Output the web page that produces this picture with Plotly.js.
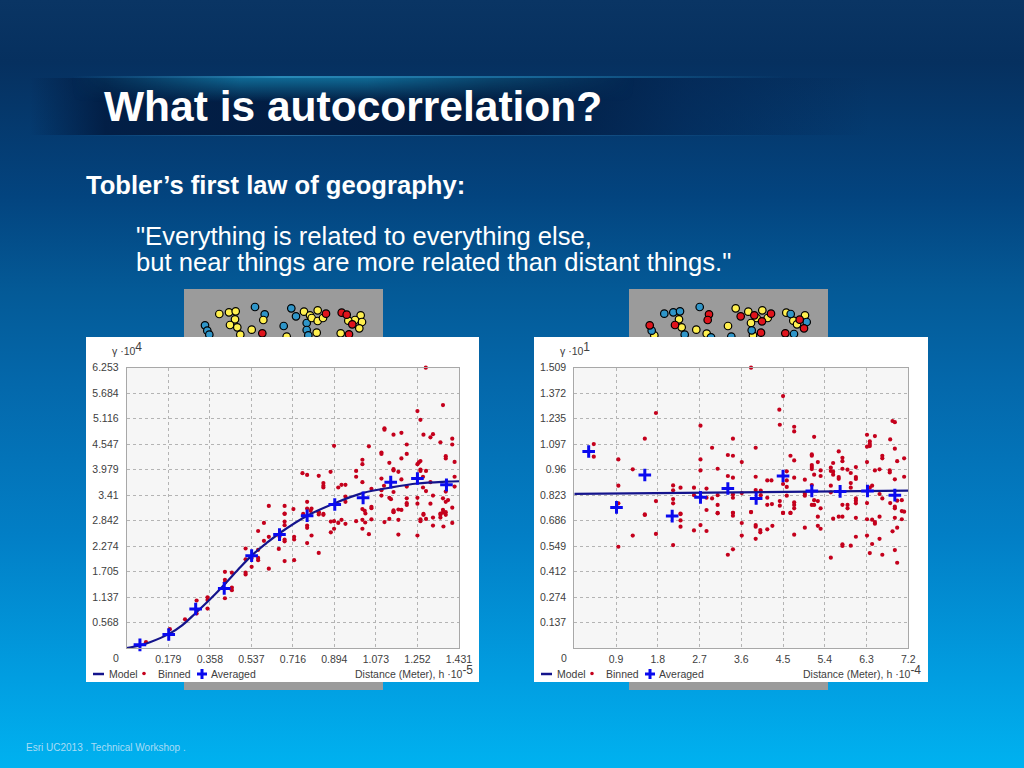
<!DOCTYPE html>
<html><head><meta charset="utf-8">
<script src="https://cdn.plot.ly/plotly-3.0.1.min.js"></script>
<style>
html,body{margin:0;padding:0;width:1024px;height:768px;overflow:hidden;background:linear-gradient(180deg,#0a3564 0%,#06305f 8%,#03447f 25.5%,#045a97 38%,#0468ab 50%,#027fc6 70%,#019fe2 89%,#00b2f0 100%);}
#band{position:absolute;left:30px;top:78px;width:840px;height:57px;background:linear-gradient(90deg,rgba(2,28,66,0) 0%,rgba(2,28,66,.9) 9%,rgba(2,26,62,.95) 55%,rgba(3,36,80,.55) 78%,rgba(4,40,88,0) 100%);}
#glow{position:absolute;left:30px;top:78px;width:840px;height:24px;background:linear-gradient(180deg,rgba(20,130,175,.75),rgba(20,130,175,0));-webkit-mask-image:linear-gradient(90deg,transparent 5%,#000 25%,#000 40%,transparent 72%);mask-image:linear-gradient(90deg,transparent 5%,#000 25%,#000 40%,transparent 72%);}
#bandline{position:absolute;left:30px;top:76px;width:840px;height:2px;background:linear-gradient(90deg,rgba(40,150,200,0) 5%,rgba(50,160,205,.8) 30%,rgba(40,150,200,.5) 60%,rgba(40,150,200,0) 90%);}
#bandline2{position:absolute;left:30px;top:135px;width:840px;height:1px;background:linear-gradient(90deg,rgba(50,120,170,0) 5%,rgba(50,120,170,.7) 30%,rgba(50,120,170,.4) 60%,rgba(50,120,170,0) 90%);}
#chart{position:absolute;left:0;top:0;width:1024px;height:768px;}
</style></head><body>
<div id="band"></div><div id="glow"></div><div id="bandline"></div><div id="bandline2"></div><div id="chart"></div>
<script>
// Left semivariogram (distance ·10^-5, gamma ·10^4)
var leftBinnedX=[1.288,1.362,1.252,1.265,1.110,1.110,1.149,1.183,1.278,1.319,1.308,1.402,1.351,1.402,0.893,1.043,1.206,1.097,1.097,1.206,1.374,1.374,1.183,1.015,1.015,1.131,1.412,1.252,1.258,1.265,1.149,1.149,1.170,1.265,1.265,1.289,0.988,0.988,0.878,0.757,0.777,0.827,1.015,1.097,1.183,1.276,1.412,0.847,0.847,0.847,0.911,0.925,0.942,1.054,1.097,1.108,1.206,1.308,1.276,1.289,1.374,1.412,1.149,1.097,0.942,1.131,1.138,1.206,1.252,1.319,1.362,1.384,1.374,0.942,0.777,1.206,1.206,1.252,1.308,0.612,0.680,0.718,0.777,0.796,0.792,0.827,0.847,1.015,1.025,1.028,1.054,1.054,1.149,1.149,1.170,1.183,1.402,1.362,1.374,1.351,1.278,0.680,0.760,0.680,0.827,0.827,0.847,0.591,0.680,0.680,0.566,0.612,0.591,0.658,0.721,0.721,0.680,0.680,0.777,0.777,0.796,0.777,0.879,0.879,0.893,0.893,0.911,0.925,0.942,0.988,1.015,1.015,1.027,1.043,1.054,1.110,1.131,1.170,1.170,1.149,1.265,1.265,1.252,1.278,1.289,1.319,1.319,1.351,1.351,1.364,1.362,1.374,1.402,0.512,0.566,0.512,0.538,0.566,0.566,0.538,0.612,0.655,0.680,0.721,0.827,0.512,0.512,0.423,0.453,0.423,0.423,0.453,0.453,0.423,0.348,0.348,0.301,0.348,0.301,0.251,0.186,0.083];
var leftBinnedY=[6.253,5.42,5.286,5.09,4.90,4.87,4.76,4.80,4.76,4.77,4.70,4.67,4.59,4.54,4.51,4.50,4.54,4.36,4.33,4.33,4.28,4.23,4.23,4.20,4.10,4.13,4.15,4.10,4.14,4.17,3.99,3.96,3.93,3.98,3.95,3.95,3.95,3.82,3.93,3.90,3.86,3.84,3.70,3.78,3.76,3.82,3.82,3.68,3.62,3.58,3.58,3.64,3.64,3.55,3.52,3.62,3.60,3.70,3.58,3.50,3.49,3.60,3.48,3.40,3.38,3.35,3.32,3.34,3.35,3.40,3.34,3.30,3.26,3.26,3.26,3.23,3.19,3.22,3.22,3.17,3.17,3.10,3.11,3.11,3.06,3.03,2.99,3.10,3.06,3.00,3.15,3.12,3.07,3.03,3.09,3.08,3.13,3.08,3.03,3.00,2.99,3.00,2.99,2.99,3.02,2.98,2.97,2.79,2.82,2.74,2.61,2.48,2.39,2.49,2.48,2.42,2.42,2.38,2.73,2.68,2.51,2.34,2.82,2.58,2.83,2.66,2.79,2.86,2.77,2.83,2.86,2.66,2.80,2.54,2.87,2.81,2.88,2.86,2.53,3.04,2.87,2.83,2.51,2.97,2.88,2.91,2.73,2.97,2.91,2.71,3.02,2.97,2.79,2.22,2.19,1.98,2.01,2.01,1.96,1.81,1.77,2.21,1.94,1.96,2.12,1.68,1.64,1.70,1.68,1.52,1.46,1.35,1.29,1.11,1.13,1.07,1.06,0.88,0.77,0.64,0.42,0.13];
var leftAvgX=[0.057,0.181,0.297,0.420,0.538,0.658,0.777,0.896,1.018,1.137,1.252,1.377];
var leftAvgY=[0.07,0.30,0.87,1.33,2.06,2.53,2.95,3.20,3.35,3.70,3.78,3.64];
var leftModelX=[0,0.057,0.10,0.181,0.237,0.297,0.358,0.42,0.48,0.538,0.60,0.658,0.777,0.896,1.018,1.137,1.252,1.377,1.431];
var leftModelY=[0,0.06,0.13,0.31,0.50,0.78,1.08,1.41,1.75,2.06,2.33,2.56,2.95,3.23,3.46,3.58,3.67,3.71,3.72];
var leftXTicks=[0.179,0.358,0.537,0.716,0.894,1.073,1.252,1.431];
var leftXLabels=['0.179','0.358','0.537','0.716','0.894','1.073','1.252','1.431'];
var leftYTicks=[0.568,1.137,1.705,2.274,2.842,3.41,3.979,4.547,5.116,5.684,6.253];
var leftYLabels=['0.568','1.137','1.705','2.274','2.842','3.41','3.979','4.547','5.116','5.684','6.253'];

// Right semivariogram (distance ·10^-4, gamma ·10^1)
var rightBinnedX=[3.81,4.50,4.42,1.76,4.43,2.72,4.74,4.74,6.86,6.91,6.31,6.48,5.17,1.52,3.42,6.81,0.42,6.37,6.37,6.31,6.37,2.97,3.91,6.91,5.70,3.31,3.42,4.66,5.12,5.12,6.64,6.64,0.42,5.78,5.78,0.95,2.72,4.74,6.31,6.96,7.11,3.61,5.25,5.58,5.12,5.12,5.12,5.53,6.07,3.09,5.78,5.89,5.31,5.53,5.58,6.48,6.58,6.80,6.80,1.26,2.72,4.58,5.96,3.31,3.42,3.91,5.17,5.31,5.58,5.70,5.70,6.07,6.07,7.11,6.91,0.95,4.16,4.25,4.74,4.97,4.58,4.50,4.58,2.13,2.13,2.29,2.58,2.85,5.12,5.53,5.96,5.96,6.42,6.37,3.91,4.02,4.02,3.61,3.42,3.42,2.58,2.85,2.97,3.09,4.16,4.58,4.97,4.97,5.53,6.58,6.64,6.07,6.07,6.07,6.96,7.06,1.76,2.13,2.13,0.95,5.17,5.25,4.43,4.43,4.74,4.74,4.74,4.16,4.26,3.09,5.12,5.17,5.78,5.89,5.89,6.31,6.81,6.91,6.91,5.31,2.85,7.06,7.11,3.09,3.42,3.81,4.50,4.66,1.52,2.29,2.29,3.42,3.42,3.09,3.81,1.52,4.50,4.66,5.25,5.58,5.70,5.78,6.07,6.31,6.42,6.48,6.48,6.58,6.91,7.06,2.29,2.29,2.72,3.61,3.91,3.91,4.01,4.01,4.16,4.27,4.97,5.25,5.31,2.58,2.85,1.26,1.76,3.61,4.74,3.91,6.07,6.31,6.86,6.96,6.58,0.95,2.13,5.78,5.78,5.96,6.42,3.42,3.31,6.37,6.64,6.91,5.53,6.96];
var rightBinnedY=[1.509,1.356,1.283,1.265,1.202,1.197,1.191,1.166,1.222,1.216,1.148,1.141,1.137,1.127,1.127,1.123,1.098,1.112,1.098,1.084,1.087,1.078,1.078,1.073,1.058,1.039,1.035,1.035,1.042,1.035,1.035,1.021,1.030,1.024,1.006,1.015,1.015,1.010,1.001,1.006,1.021,1.001,1.001,0.996,0.985,0.974,0.963,0.971,0.974,0.965,0.965,0.960,0.956,0.953,0.949,0.956,0.962,0.956,0.945,0.962,0.956,0.951,0.942,0.926,0.917,0.922,0.933,0.926,0.933,0.920,0.911,0.920,0.910,0.922,0.908,0.874,0.902,0.902,0.917,0.906,0.902,0.883,0.867,0.875,0.849,0.863,0.863,0.858,0.877,0.874,0.888,0.863,0.874,0.863,0.850,0.847,0.823,0.834,0.827,0.809,0.823,0.809,0.805,0.823,0.809,0.820,0.831,0.820,0.838,0.829,0.805,0.805,0.793,0.779,0.793,0.796,0.791,0.802,0.779,0.779,0.796,0.791,0.791,0.766,0.784,0.770,0.752,0.771,0.775,0.770,0.770,0.770,0.771,0.770,0.752,0.780,0.780,0.761,0.752,0.752,0.743,0.737,0.734,0.725,0.727,0.732,0.727,0.727,0.719,0.723,0.721,0.728,0.712,0.727,0.732,0.716,0.727,0.727,0.707,0.696,0.707,0.707,0.701,0.693,0.691,0.678,0.669,0.707,0.701,0.693,0.687,0.653,0.662,0.673,0.662,0.653,0.635,0.623,0.639,0.658,0.648,0.658,0.642,0.633,0.630,0.605,0.614,0.605,0.610,0.588,0.599,0.605,0.628,0.648,0.588,0.545,0.554,0.558,0.549,0.551,0.560,0.531,0.502,0.511,0.502,0.527,0.486,0.459];
var rightAvgX=[0.31,0.91,1.52,2.11,2.72,3.31,3.92,4.50,5.12,5.73,6.32,6.91];
var rightAvgY=[1.058,0.757,0.931,0.710,0.811,0.859,0.805,0.926,0.845,0.843,0.845,0.823];
var rightModelX=[0,7.2];
var rightModelY=[0.83,0.847];
var rightXTicks=[0.9,1.8,2.7,3.6,4.5,5.4,6.3,7.2];
var rightXLabels=['0.9','1.8','2.7','3.6','4.5','5.4','6.3','7.2'];
var rightYTicks=[0.137,0.274,0.412,0.549,0.686,0.823,0.96,1.097,1.235,1.372,1.509];
var rightYLabels=['0.137','0.274','0.412','0.549','0.686','0.823','0.96','1.097','1.235','1.372','1.509'];

// Sample-point maps peeking out behind the charts
var mapLYellowX=[35.3,45,51.7,51,46,53.3,67.7,56.3,79.3,102.7,120,126,133.7,127.7,133.7,139,132.7,176.7,171,164.3,178,175.3,156.7];
var mapLYellowY=[25,23.3,22.3,30.3,36,38.3,40.7,45.7,31,47.7,22.7,26.3,21.3,29,32,29,43.7,26.3,31,31.7,33,39.3,44.3];
var mapLBlueX=[71,80.7,21,23.3,25.3,99.7,107.3,112,122.7,122.7,124.3];
var mapLBlueY=[18,25.3,36.3,41.7,45.7,37,19.3,27.3,34,41,46.3];
var mapLRedX=[78.3,142,157.7,162.7,168.3,165];
var mapLRedY=[44.3,24.7,23.7,25.7,35.3,45.3];
var mapRYellowX=[50,52.7,67.3,77.7,25.3,99,106.7,119.3,133.3,127.7,138.7,122,157.3,176,164.3,168,124];
var mapRYellowY=[30.3,38.3,40.7,44.7,46.3,37,19.3,22.7,21.3,29,29,34,23.7,26.3,31.7,35.3,46.3];
var mapRBlueX=[35.3,44.3,51,70.7,22.7,55.7,161.7,177.7,122.7,165,102.3,82];
var mapRBlueY=[24.7,23.3,22.3,18,41.7,45.7,25,33,41.3,45,47.7,48.3];
var mapRRedX=[80,78.7,20.7,46,111.7,125.3,133,142,175,156.3,132,170.7];
var mapRRedY=[25.3,31,36.3,36,27.3,26.3,32.3,24.7,39.3,44.3,43.7,30.7];

var W=1024,H=768;
function px(x){return x/W;} function py(y){return (H-y)/H;}
var F='"Liberation Sans",Arial,sans-serif';
var TXT='#404040';
var CMODEL='#14148c',CBIN='#c4001c',CAVG='#0a0aee';

function axis(dom,ticks,labels,range,anchor,len){return {domain:dom,range:range,anchor:anchor,tickmode:'array',tickvals:ticks,ticktext:labels,
  showgrid:true,gridcolor:'#b4b4b4',griddash:'dot',gridwidth:1,zeroline:false,showline:true,linecolor:'#a8a8a8',linewidth:1,mirror:true,
  ticks:'outside',ticklen:len,tickcolor:'rgba(0,0,0,0)',
  tickfont:{family:F,size:10.5,color:TXT},automargin:false};}
function hidden(dom,range,anchor){return {domain:dom,range:range,anchor:anchor,visible:false,fixedrange:true};}

function chartTraces(mx,my,bx,by,ax,ay,xa,ya){return [
 {type:'scatter',mode:'markers',x:bx,y:by,xaxis:xa,yaxis:ya,cliponaxis:false,marker:{size:4.2,color:CBIN}},
 {type:'scatter',mode:'lines',x:mx,y:my,xaxis:xa,yaxis:ya,line:{color:CMODEL,width:2.2,shape:'spline',smoothing:1}},
 {type:'scatter',mode:'markers',x:ax,y:ay,xaxis:xa,yaxis:ya,cliponaxis:false,marker:{symbol:'cross-thin',size:9,color:CAVG,line:{color:CAVG,width:3}}}
];}
function mapTrace(x,y,c,xa,ya){return {type:'scatter',mode:'markers',x:x,y:y,xaxis:xa,yaxis:ya,marker:{size:7.5,color:c,line:{color:'#000',width:1.2}}};}
var YEL='#fff04f',BLU='#2f95c8',RED='#e0141c';

var data=[].concat(
 chartTraces(leftModelX,leftModelY,leftBinnedX,leftBinnedY,leftAvgX,leftAvgY,'x','y'),
 chartTraces(rightModelX,rightModelY,rightBinnedX,rightBinnedY,rightAvgX,rightAvgY,'x2','y2'),
 [mapTrace(mapLBlueX,mapLBlueY,BLU,'x3','y3'),mapTrace(mapLYellowX,mapLYellowY,YEL,'x3','y3'),mapTrace(mapLRedX,mapLRedY,RED,'x3','y3'),
  mapTrace(mapRYellowX,mapRYellowY,YEL,'x4','y4'),mapTrace(mapRBlueX,mapRBlueY,BLU,'x4','y4'),mapTrace(mapRRedX,mapRRedY,RED,'x4','y4')]
);

function rect(x0,y0,x1,y1,c){return {type:'rect',xref:'paper',yref:'paper',x0:px(x0),x1:px(x1),y0:py(y1),y1:py(y0),fillcolor:c,line:{width:0},layer:'below'};}
function seg(x0,y0,x1,y1,c,w){return {type:'line',xref:'paper',yref:'paper',x0:px(x0),x1:px(x1),y0:py(y0),y1:py(y1),line:{color:c,width:w},layer:'below'};}
function dot(x,y,r,c){return {type:'circle',xref:'paper',yref:'paper',x0:px(x-r),x1:px(x+r),y0:py(y+r),y1:py(y-r),fillcolor:c,line:{width:0},layer:'below'};}
function legendKeys(o){return [seg(o+93,674,o+104,674,CMODEL,2.5),dot(o+144,673.5,1.8,CBIN),seg(o+197,674,o+207,674,CAVG,3),seg(o+202,669,o+202,679,CAVG,3)];}

var shapes=[].concat(
 [rect(184,289,383,690,'#9b9b9b'),rect(629,289,828,690,'#9b9b9b'),
  rect(86,337,479,682,'#ffffff'),rect(534,337,928,682,'#ffffff'),
  rect(126.7,367.7,459,648,'#f6f6f6'),rect(574.3,367.7,908.3,648,'#f6f6f6')],
 legendKeys(0),legendKeys(448)
);

function note(x,y,t,o){o=o||{};return {xref:'paper',yref:'paper',x:px(x),y:py(y),text:t,showarrow:false,xanchor:o.a||'left',yanchor:'middle',borderpad:0,
  font:{family:F,size:o.s||10.5,color:o.c||TXT,weight:o.w||'normal'}};}
function sup(t){return '<sup><span style="font-size:12px">'+t+'</span></sup>';}
function chartNotes(o,yexp){return [
 note(o+111,348,'γ ·10'+sup(yexp),{s:10.5}),
 note(o+116,658,'0',{a:'center'}),
 note(o+108,674,'Model'),note(o+157,674,'Binned'),note(o+210,674,'Averaged')
];}

var annotations=[].concat(
 chartNotes(0,'4'),chartNotes(448,'1'),
 [note(474,671,'Distance (Meter), h ·10'+sup('-5'),{a:'right'}),
  note(922,671,'Distance (Meter), h ·10'+sup('-4'),{a:'right'}),
  note(103,107,'What is autocorrelation?',{s:42.5,c:'#ffffff',w:'bold'}),
  note(85,185,'Tobler’s first law of geography:',{s:25.6,c:'#ffffff',w:'bold'}),
  note(135,236,'"Everything is related to everything else,',{s:25.6,c:'#ffffff'}),
  note(135,262,'but near things are more related than distant things."',{s:25.6,c:'#ffffff'}),
  note(25,747,'Esri UC2013 . Technical Workshop .',{s:10,c:'#a9dcf5'})]
);

var layout={width:W,height:H,margin:{l:0,r:0,t:0,b:0},paper_bgcolor:'rgba(0,0,0,0)',plot_bgcolor:'rgba(0,0,0,0)',showlegend:false,hovermode:false,
 xaxis:axis([px(126.7),px(459)],leftXTicks,leftXLabels,[0,1.431],'y',1),
 yaxis:axis([py(648),py(367.7)],leftYTicks,leftYLabels,[0,6.253],'x',5),
 xaxis2:axis([px(574.3),px(908.3)],rightXTicks,rightXLabels,[0,7.2],'y2',1),
 yaxis2:axis([py(648),py(367.7)],rightYTicks,rightYLabels,[0,1.509],'x2',5),
 xaxis3:hidden([px(184),px(383)],[0,199],'y3'),
 yaxis3:hidden([py(337),py(289)],[48,0],'x3'),
 xaxis4:hidden([px(629),px(828)],[0,199],'y4'),
 yaxis4:hidden([py(337),py(289)],[48,0],'x4'),
 shapes:shapes,annotations:annotations};
Plotly.newPlot('chart',data,layout,{staticPlot:true,displayModeBar:false});
</script></body></html>
